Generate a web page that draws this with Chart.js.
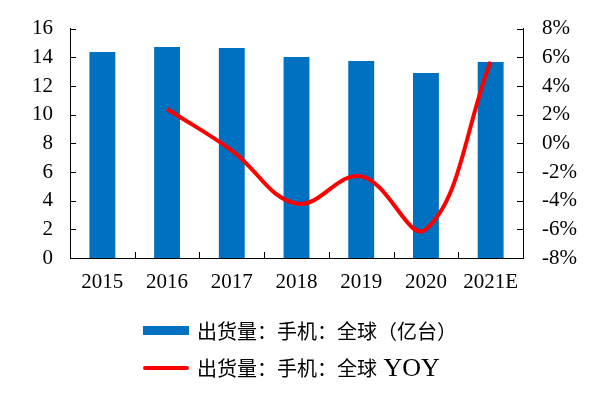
<!DOCTYPE html>
<html>
<head>
<meta charset="utf-8">
<script src="https://cdn.jsdelivr.net/npm/chart.js@4/dist/chart.umd.min.js"></script>
<style>
  html, body { margin: 0; padding: 0; background: #fff; }
  #wrap { position: relative; width: 600px; height: 394px; }
  #legend {
    position: absolute; left: 143px; top: 311px;
    font-family: "Liberation Serif", "Noto Sans CJK SC", serif;
    font-size: 20px; color: #000;
  }
  .row { display: flex; align-items: center; height: 38px; }
  .sym { width: 46px; margin-right: 8px; }
  .box { height: 9px; background: #0070C0; }
  .ln { height: 4px; background: #FF0000; border-radius: 2px; }
  .yoy { font-size: 26px; }
</style>
</head>
<body>
<div id="wrap">
  <canvas id="chart" width="600" height="394"></canvas>
  <div id="legend">
    <div class="row"><div class="sym box"></div><span>出货量：手机：全球（亿台）</span></div>
    <div class="row"><div class="sym ln"></div><span>出货量：手机：全球<span class="yoy"> YOY</span></span></div>
  </div>
</div>
<script>
// categories and series
const years     = ["2015", "2016", "2017", "2018", "2019", "2020", "2021E"];
const shipments = [14.37, 14.72, 14.65, 14.03, 13.75, 12.91, 13.68];   // 亿台
const yoy       = [null, 2.4, -0.5, -4.2, -2.3, -6.0, 5.7];           // %

const FONT   = { family: '"Liberation Serif", "Times New Roman", serif', size: 21 };
const YFONT  = { family: '"Liberation Serif", "Times New Roman", serif', size: 21, lineHeight: 0.9 };

// draw short tick marks pointing into the plot area
const innerTicks = {
    id: "innerTicks",
    afterDraw(chart) {
        const ctx = chart.ctx;
        const area = chart.chartArea;
        const len = 6;
        ctx.save();
        ctx.strokeStyle = "#000";
        ctx.lineWidth = 1;
        ctx.beginPath();
        chart.scales.y.ticks.forEach(t => {
            const py = Math.round(chart.scales.y.getPixelForValue(t.value)) + 0.5;
            ctx.moveTo(area.left, py);
            ctx.lineTo(area.left + len, py);
        });
        chart.scales.y1.ticks.forEach(t => {
            const py = Math.round(chart.scales.y1.getPixelForValue(t.value)) + 0.5;
            ctx.moveTo(area.right, py);
            ctx.lineTo(area.right - len, py);
        });
        const xs = chart.scales.x;
        for (let i = 0; i < years.length - 1; i++) {
            const px = Math.round((xs.getPixelForValue(i) + xs.getPixelForValue(i + 1)) / 2) + 0.5;
            ctx.moveTo(px, area.bottom);
            ctx.lineTo(px, area.bottom - len);
        }
        ctx.stroke();
        ctx.restore();
    }
};

new Chart(document.getElementById("chart").getContext("2d"), {
    type: "bar",
    data: {
        labels: years,
        datasets: [
            {
                type: "line",
                label: "出货量：手机：全球 YOY",
                data: yoy,
                yAxisID: "y1",
                borderColor: "#FF0000",
                borderWidth: 4,
                pointRadius: 0,
                tension: 0.4,
                fill: false,
                order: 0,
            },
            {
                label: "出货量：手机：全球（亿台）",
                data: shipments,
                yAxisID: "y",
                backgroundColor: "#0070C0",
                categoryPercentage: 1,
                barPercentage: 0.4,
                order: 1,
            },
        ],
    },
    options: {
        responsive: false,
        animation: false,
        layout: { padding: { left: 15, right: 4, top: 28.7, bottom: 86.8 } },
        plugins: { legend: { display: false }, tooltip: { enabled: false } },
        scales: {
            x: {
                grid: { display: false, drawTicks: false },
                border: { display: true, color: "#000", width: 1 },
                ticks: { color: "#000", font: FONT, padding: 12, maxRotation: 0 },
            },
            y: {
                position: "left",
                min: 0, max: 16,
                grid: { display: false, drawTicks: false },
                border: { display: true, color: "#000", width: 1 },
                ticks: { stepSize: 2, autoSkip: false, color: "#000", font: YFONT, padding: 17 },
            },
            y1: {
                position: "right",
                min: -8, max: 8,
                grid: { display: false, drawTicks: false },
                border: { display: true, color: "#000", width: 1 },
                ticks: { stepSize: 2, autoSkip: false, color: "#000", font: YFONT, padding: 19,
                         callback: v => v + "%" },
            },
        },
    },
    plugins: [innerTicks],
});
</script>
</body>
</html>
